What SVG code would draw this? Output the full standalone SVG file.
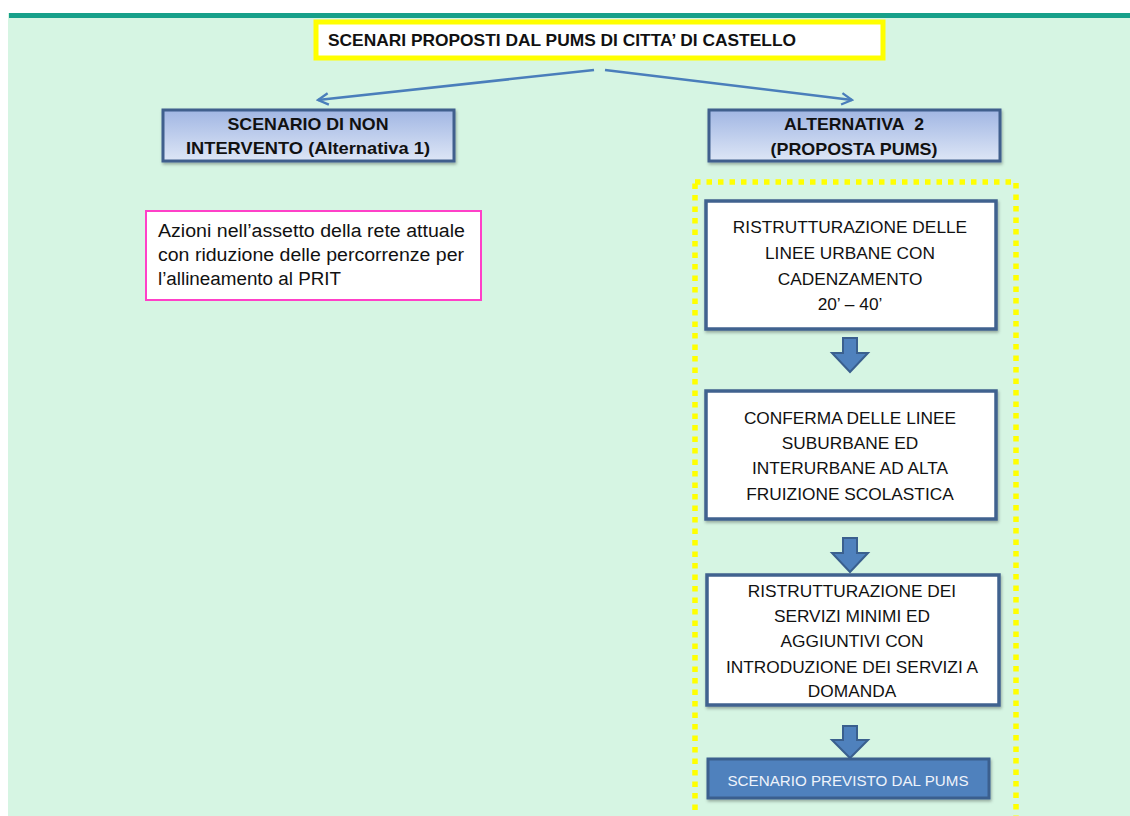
<svg xmlns="http://www.w3.org/2000/svg" width="1130" height="816" viewBox="0 0 1130 816">
<style>
.t{font-family:"Liberation Sans",Arial,sans-serif;fill:#111;}
.b{font-weight:bold;}
.c{text-anchor:middle;}
.flow{fill:#ffffff;stroke:#41628f;stroke-width:3.5;}
.head{fill:url(#hg);stroke:#3f5f8d;stroke-width:3;}
.conn{stroke:#4a7ebb;stroke-width:2.5;fill:none;}
.blk{fill:#4f81bd;stroke:#3a5f8e;stroke-width:2;stroke-linejoin:miter;}
</style>
<defs>
<linearGradient id="hg" x1="0" y1="0" x2="0" y2="1">
<stop offset="0" stop-color="#a1b6e3"/>
<stop offset="1" stop-color="#dde6f6"/>
</linearGradient>
<filter id="sh" x="-5%" y="-10%" width="110%" height="130%">
<feDropShadow dx="1" dy="2" stdDeviation="1.5" flood-color="#000" flood-opacity="0.3"/>
</filter>
<marker id="ah" viewBox="0 0 12 12" refX="10" refY="6" markerWidth="5.5" markerHeight="5.5" orient="auto" markerUnits="strokeWidth">
<path d="M1,1 L10,6 L1,11" fill="none" stroke="#4a7ebb" stroke-width="2"/>
</marker>
</defs>
<rect x="0" y="0" width="1130" height="816" fill="#ffffff"/>
<rect x="8" y="13" width="1122" height="803" fill="#d6f5e3"/>
<rect x="9" y="13" width="1121" height="5" fill="#17a08a"/>

<g id="connectors">
<line class="conn" x1="594" y1="70" x2="318" y2="100" marker-end="url(#ah)"/>
<line class="conn" x1="605" y1="70" x2="852" y2="100" marker-end="url(#ah)"/>
<polygon class="blk" points="843,338 857,338 857,353 868,353 850,372 832,353 843,353"/>
<polygon class="blk" points="843,538 857,538 857,553 868,553 850,572 832,553 843,553"/>
<polygon class="blk" points="843,726 857,726 857,740 868,740 850,758 832,740 843,740"/>
</g>

<g id="title">
<rect x="316" y="22" width="567" height="36" fill="#ffffff" stroke="#ffff00" stroke-width="5"/>
<text class="t b" x="328" y="46" font-size="16.5" textLength="468" lengthAdjust="spacingAndGlyphs">SCENARI PROPOSTI DAL PUMS DI CITTA’ DI CASTELLO</text>
</g>

<g id="scenario-non-intervento">
<rect class="head" x="163" y="110" width="291" height="51" filter="url(#sh)"/>
<text class="t b c" x="308" y="130" font-size="17" textLength="161" lengthAdjust="spacingAndGlyphs">SCENARIO DI NON</text>
<text class="t b c" x="308" y="154" font-size="17" textLength="244" lengthAdjust="spacingAndGlyphs">INTERVENTO (Alternativa 1)</text>
</g>

<g id="alternativa-2">
<rect class="head" x="709" y="110" width="291" height="51" filter="url(#sh)"/>
<text class="t b c" x="854" y="130" font-size="17" textLength="140" lengthAdjust="spacingAndGlyphs" style="white-space:pre">ALTERNATIVA&#160; 2</text>
<text class="t b c" x="854" y="155" font-size="17" textLength="167" lengthAdjust="spacingAndGlyphs">(PROPOSTA PUMS)</text>
</g>

<g id="azioni">
<rect x="146" y="211" width="335" height="89" fill="#ffffff" stroke="#ff40c8" stroke-width="2"/>
<text class="t" x="158" y="237" font-size="18" textLength="307" lengthAdjust="spacingAndGlyphs">Azioni nell’assetto della rete attuale</text>
<text class="t" x="158" y="261" font-size="18" textLength="306" lengthAdjust="spacingAndGlyphs">con riduzione delle percorrenze per</text>
<text class="t" x="158" y="285" font-size="18" textLength="183" lengthAdjust="spacingAndGlyphs">l’allineamento al PRIT</text>
</g>

<g id="proposta-frame">
<rect x="695" y="182" width="321" height="660" fill="none" stroke="#ffff00" stroke-width="5.5" stroke-dasharray="5.5 6"/>
</g>

<g id="box-linee-urbane">
<rect class="flow" x="706" y="201" width="290" height="128" filter="url(#sh)"/>
<text class="t c" x="850" y="233" font-size="17.3">RISTRUTTURAZIONE DELLE</text>
<text class="t c" x="850" y="259" font-size="17.3">LINEE URBANE CON</text>
<text class="t c" x="850" y="285" font-size="17.3">CADENZAMENTO</text>
<text class="t c" x="850" y="310" font-size="17.3">20’ – 40’</text>
</g>

<g id="box-suburbane">
<rect class="flow" x="706" y="391" width="290" height="128" filter="url(#sh)"/>
<text class="t c" x="850" y="424" font-size="17.3">CONFERMA DELLE LINEE</text>
<text class="t c" x="850" y="449" font-size="17.3">SUBURBANE ED</text>
<text class="t c" x="850" y="474" font-size="17.3">INTERURBANE AD ALTA</text>
<text class="t c" x="850" y="500" font-size="17.3">FRUIZIONE SCOLASTICA</text>
</g>

<g id="box-servizi">
<rect class="flow" x="707" y="575" width="292" height="130" filter="url(#sh)"/>
<text class="t c" x="852" y="597" font-size="17.3">RISTRUTTURAZIONE DEI</text>
<text class="t c" x="852" y="622" font-size="17.3">SERVIZI MINIMI ED</text>
<text class="t c" x="852" y="647" font-size="17.3">AGGIUNTIVI CON</text>
<text class="t c" x="852" y="673" font-size="17.3">INTRODUZIONE DEI SERVIZI A</text>
<text class="t c" x="852" y="697" font-size="17.3">DOMANDA</text>
</g>

<g id="scenario-previsto">
<rect x="708" y="759" width="281" height="39" fill="#4f81bd" stroke="#3a5f8e" stroke-width="3" filter="url(#sh)"/>
<text class="t c" x="848" y="786" font-size="15.5" style="fill:#eef3fb" textLength="241" lengthAdjust="spacingAndGlyphs">SCENARIO PREVISTO DAL PUMS</text>
</g>
</svg>
